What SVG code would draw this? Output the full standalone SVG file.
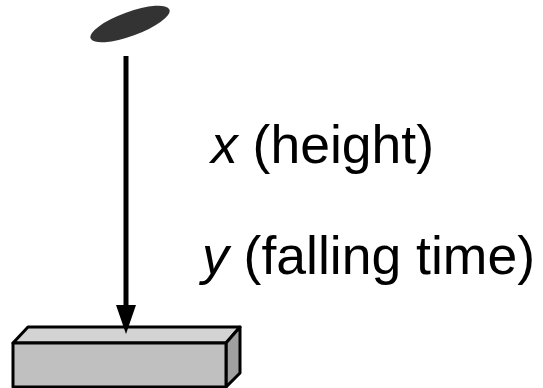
<svg xmlns="http://www.w3.org/2000/svg" width="543" height="388" viewBox="0 0 543 388">
<style>
.face{stroke:#000;stroke-width:3;stroke-linejoin:round}
.lbl{font-family:"Liberation Sans",Arial,sans-serif;font-size:53.5px;fill:#000}
</style>
<defs>
<marker id="ah" markerWidth="30" markerHeight="20" refX="1" refY="10" orient="auto" markerUnits="userSpaceOnUse" viewBox="0 0 30 20">
<path d="M0,0 L29,10 L0,20 Z" fill="#000"/>
</marker>
</defs>
<rect width="543" height="388" fill="#fff"/>
<g id="ball">
<ellipse cx="130" cy="24" rx="42" ry="12" transform="rotate(-20 130 24)" fill="#333"/>
</g>
<g id="block">
<polygon class="face" points="13,343 28,327 240,327 226,343" fill="#d3d3d3"/>
<polygon class="face" points="226,343 240,327 240,373 226,387" fill="#a0a0a0"/>
<rect class="face" x="13" y="343" width="213" height="44" fill="#c0c0c0"/>
</g>
<g id="connectors">
<line x1="126" y1="56" x2="126" y2="306" stroke="#000" stroke-width="5" marker-end="url(#ah)"/>
</g>
<g id="labels">
<text class="lbl" x="211" y="163"><tspan font-style="italic">x</tspan> (height)</text>
<text class="lbl" x="202" y="274"><tspan font-style="italic">y</tspan> (falling time)</text>
</g>
</svg>
